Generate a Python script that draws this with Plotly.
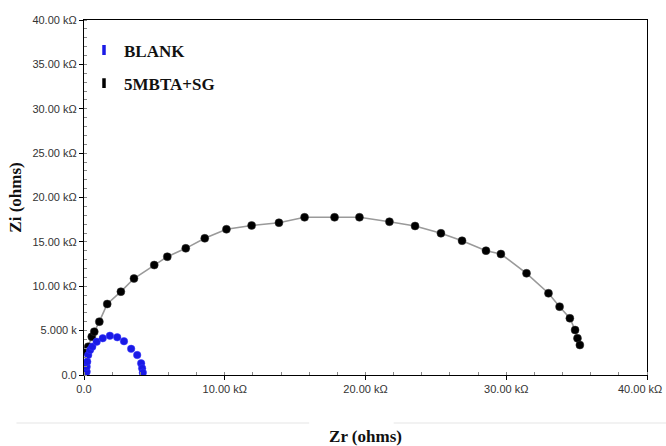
import plotly.graph_objects as go

# Nyquist data (kΩ)
blank_zr = [0.19, 0.19, 0.23, 0.30, 0.43, 0.59, 0.90, 1.33, 1.84, 2.36, 2.84, 3.35, 3.78, 4.06, 4.13, 4.18]
blank_zi = [0.37, 0.94, 1.50, 2.25, 2.82, 3.19, 3.75, 4.14, 4.42, 4.25, 3.81, 2.95, 2.25, 1.32, 0.75, 0.26]

sg_zr = [0.14, 0.30, 0.55, 0.73, 1.09, 1.65, 2.62, 3.55, 4.99, 5.92, 7.23, 8.58, 10.12, 11.91, 13.85,
         15.67, 17.80, 19.57, 21.70, 23.52, 25.36, 26.86, 28.56, 29.62, 31.44, 33.00, 33.79, 34.52,
         34.89, 35.06, 35.23]
sg_zi = [2.63, 3.19, 4.31, 4.88, 6.01, 8.00, 9.39, 10.87, 12.39, 13.33, 14.27, 15.40, 16.42, 16.85, 17.16,
         17.77, 17.77, 17.77, 17.27, 16.79, 15.97, 15.13, 14.01, 13.63, 11.46, 9.21, 7.70, 6.39,
         5.07, 4.14, 3.38]

x_tickvals = [0, 10, 20, 30, 40]
x_ticktext = ["0.0", "10.00 kΩ", "20.00 kΩ", "30.00 kΩ", "40.00 kΩ"]
y_tickvals = [0, 5, 10, 15, 20, 25, 30, 35, 40]
y_ticktext = ["0.0", "5.000 k", "10.00 kΩ", "15.00 kΩ", "20.00 kΩ", "25.00 kΩ",
              "30.00 kΩ", "35.00 kΩ", "40.00 kΩ"]

series_names = ["BLANK", "5MBTA+SG"]
series_colors = ["#1a1ae6", "#000000"]

fig = go.Figure()

# fitted line for 5MBTA+SG
fig.add_trace(go.Scatter(x=sg_zr, y=sg_zi, mode="lines",
                         line=dict(color="#9a9a9a", width=1.6), showlegend=False, hoverinfo="skip"))
fig.add_trace(go.Scatter(x=sg_zr, y=sg_zi, mode="markers",
                         marker=dict(color=series_colors[1], size=8, symbol="circle",
                                     line=dict(color="#333333", width=0.5)),
                         showlegend=False))
fig.add_trace(go.Scatter(x=blank_zr, y=blank_zi, mode="markers",
                         marker=dict(color=series_colors[0], size=7.5, symbol="circle",
                                     line=dict(color="#3a3aff", width=0.5)),
                         showlegend=False))

# legend entries
for i, (name, col) in enumerate(zip(series_names, series_colors)):
    fig.add_trace(go.Scatter(x=[None], y=[None], mode="markers", name="<b>" + name + "</b>",
                             legendgroup=name,
                             marker=dict(color=col, size=7, symbol="line-ns",
                                         line=dict(color=col, width=3.5))))

tick_font = dict(family="Liberation Sans, Arial", size=11, color="#333333")
title_font = dict(family="Liberation Serif, Times New Roman", size=17, color="#111111")

# last x tick label is placed as an annotation so it stays inside the page
x_ticktext_axis = x_ticktext[:-1] + [""]

fig.update_layout(
    width=666, height=446,
    margin=dict(l=84, r=19, t=20, b=71, autoexpand=False),
    paper_bgcolor="white", plot_bgcolor="white",
    showlegend=True,
    legend=dict(x=0.0, y=0.965, xanchor="left", yanchor="top",
                font=title_font,
                itemwidth=30, tracegroupgap=8, bgcolor="rgba(0,0,0,0)"),
    xaxis=dict(range=[0, 40], tickvals=x_tickvals, ticktext=x_ticktext_axis, tickfont=tick_font,
               automargin=False,
               showgrid=False, zeroline=False, showline=True, linecolor="#000000", linewidth=1.2,
               mirror=True, ticks="outside", ticklen=4, tickcolor="#000000",
               minor=dict(dtick=2, ticks="inside", ticklen=3, tickcolor="#888888", showgrid=False),
               title=dict(text="<b>Zr (ohms)</b>", font=title_font, standoff=36)),
    yaxis=dict(range=[0, 40], tickvals=y_tickvals, ticktext=y_ticktext, tickfont=tick_font,
               automargin=False, ticklabeloverflow="allow",
               showgrid=False, zeroline=False, showline=True, linecolor="#000000", linewidth=1.2,
               mirror=True, ticks="outside", ticklen=4, tickcolor="#000000",
               minor=dict(dtick=1, ticks="inside", ticklen=3, tickcolor="#888888", showgrid=False),
               title=dict(text="<b>Zi (ohms)</b>", font=title_font, standoff=6)),
)

fig.add_annotation(text=x_ticktext[-1], xref="x", yref="paper", x=x_tickvals[-1], y=0,
                   xanchor="center", yanchor="middle", xshift=-7, yshift=-14,
                   showarrow=False, font=tick_font)

# faint separator line above x-axis title
fig.add_shape(type="line", xref="paper", yref="paper", x0=-0.12, x1=0.40, y0=-0.135, y1=-0.135,
              line=dict(color="#eeeeee", width=1.5))
fig.add_shape(type="line", xref="paper", yref="paper", x0=0.55, x1=1.05, y0=-0.135, y1=-0.135,
              line=dict(color="#eeeeee", width=1.5))

fig.write_html("out.html")
